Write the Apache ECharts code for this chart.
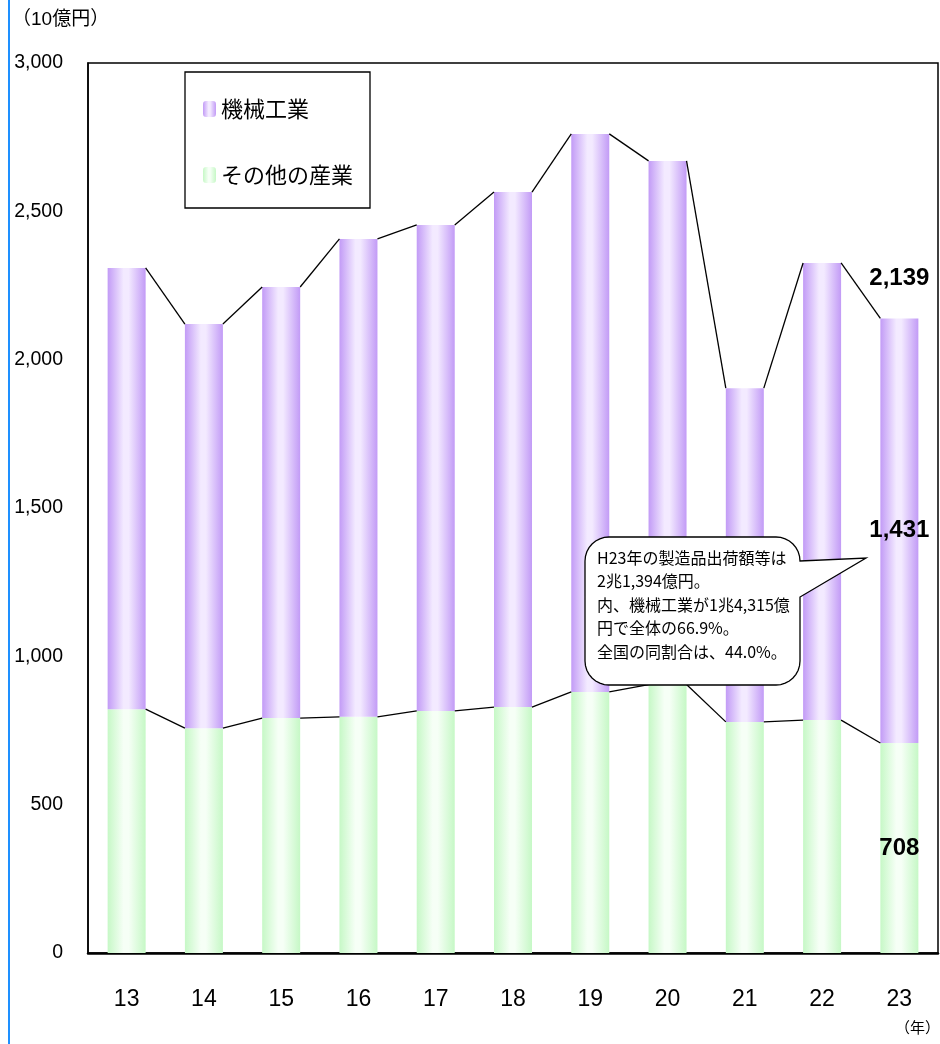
<!DOCTYPE html>
<html><head><meta charset="utf-8">
<script src="https://cdn.jsdelivr.net/npm/echarts@6/dist/echarts.min.js"></script>
<style>html,body{margin:0;padding:0;background:#fff}#c{width:940px;height:1044px}</style>
</head><body><div id="c"></div>
<script>
var years = ['13','14','15','16','17','18','19','20','21','22','23'];
var machinery = [1487, 1362, 1453, 1611, 1638, 1736, 1881, 1765, 1125, 1541, 1431];
var other = [822, 758, 792, 796, 816, 829, 880, 905, 779, 785, 708];
var yTicks = [0, 500, 1000, 1500, 2000, 2500, 3000];
var calloutLines = ['H23年の製造品出荷額等は', '2兆1,394億円。', '内、機械工業が1兆4,315億', '円で全体の66.9%。', '全国の同割合は、44.0%。'];

var LAT = "'Liberation Sans','Noto Sans CJK JP',sans-serif";
var CJK = "'Noto Sans CJK JP',sans-serif";
var BARW = 38;

var totals = machinery.map(function (m, i) { return m + other[i]; });
function segs(arr) {
  var out = [];
  for (var i = 0; i < arr.length - 1; i++) out.push([i, arr[i], arr[i + 1]]);
  return out;
}
function renderSeg(params, api) {
  var i = api.value(0);
  var p1 = api.coord([i, api.value(1)]);
  var p2 = api.coord([i + 1, api.value(2)]);
  return {
    type: 'line',
    shape: { x1: p1[0] + BARW / 2, y1: p1[1], x2: p2[0] - BARW / 2, y2: p2[1] },
    style: { stroke: '#000', lineWidth: 1.3 }
  };
}
function grad(edge, mid) {
  return new echarts.graphic.LinearGradient(0, 0, 1, 0, [
    { offset: 0, color: edge }, { offset: 0.42, color: mid }, { offset: 0.55, color: mid }, { offset: 1, color: edge }
  ]);
}
// speech bubble outline (rounded rect with a tail on the right)
function bubble(x0, y0, x1, y1, r, tail) {
  var pts = [];
  function arc(cx, cy, a0, a1) {
    for (var k = 0; k <= 8; k++) {
      var a = a0 + (a1 - a0) * k / 8;
      pts.push([cx + r * Math.cos(a), cy + r * Math.sin(a)]);
    }
  }
  var P = Math.PI;
  arc(x0 + r, y0 + r, P, 1.5 * P);
  arc(x1 - r, y0 + r, 1.5 * P, 2 * P);
  pts.push([x1, tail[0]], [tail[1], tail[2]], [x1, tail[3]]);
  arc(x1 - r, y1 - r, 0, 0.5 * P);
  arc(x0 + r, y1 - r, 0.5 * P, P);
  return pts;
}
var boldLabel = {
  show: true, position: 'inside',
  formatter: function (p) { return p.value.toLocaleString('en-US'); },
  fontFamily: LAT, fontWeight: 'bold', fontSize: 24, color: '#000'
};
var last = years.length - 1;
var chart = echarts.init(document.getElementById('c'), null, { renderer: 'canvas' });
chart.setOption({
  animation: false,
  grid: { left: 88, right: 2, top: 63, bottom: 91, show: true, borderColor: '#000', borderWidth: 1.5, backgroundColor: 'transparent' },
  legend: {
    data: ['機械工業', 'その他の産業'],
    orient: 'vertical', left: 185, top: 72,
    padding: [26, 17, 22, 18],
    itemWidth: 13, itemHeight: 16, itemGap: 44,
    borderColor: '#000', borderWidth: 1.3,
    textStyle: { fontFamily: CJK, fontSize: 22, color: '#000' },
    selectedMode: false
  },
  xAxis: {
    type: 'category', data: years,
    axisLine: { lineStyle: { color: '#000', width: 2.5 } },
    axisTick: { show: false },
    axisLabel: { fontFamily: LAT, fontSize: 23, color: '#000', margin: 35 }
  },
  yAxis: {
    type: 'value', min: yTicks[0], max: yTicks[yTicks.length - 1], interval: yTicks[1] - yTicks[0],
    axisLine: { show: true, lineStyle: { color: '#000', width: 1.5 } },
    axisTick: { show: false },
    splitLine: { show: false },
    axisLabel: {
      fontFamily: LAT, fontSize: 19.5, color: '#000', margin: 25,
      formatter: function (v) { return v.toLocaleString('en-US'); }
    }
  },
  series: [
    {
      name: 'その他の産業', type: 'bar', stack: 's', barWidth: BARW,
      itemStyle: { color: grad('#c6f8c6', '#f6fff6') },
      data: other.map(function (v, i) { return i === last ? { value: v, label: boldLabel } : v; })
    },
    {
      name: '機械工業', type: 'bar', stack: 's', barWidth: BARW,
      itemStyle: { color: grad('#c29bf6', '#f3eaff') },
      data: machinery.map(function (v, i) { return i === last ? { value: v, label: boldLabel } : v; })
    },
    { type: 'custom', renderItem: renderSeg, data: segs(totals), encode: { x: 0, y: 1 }, z: 3, silent: true },
    { type: 'custom', renderItem: renderSeg, data: segs(other), encode: { x: 0, y: 1 }, z: 3, silent: true },
    {
      type: 'scatter', symbolSize: 0, silent: true, z: 5,
      itemStyle: { opacity: 1 },
      data: [[last, totals[last]]],
      label: {
        show: true, position: 'top', offset: [0, -26], distance: 0,
        formatter: function (p) { return p.value[1].toLocaleString('en-US'); },
        fontFamily: LAT, fontWeight: 'bold', fontSize: 24, color: '#000',
        backgroundColor: '#fff', padding: [2, 5]
      }
    }
  ],
  graphic: [
    { type: 'line', shape: { x1: 9, y1: 0, x2: 9, y2: 1044 }, style: { stroke: '#1e90ff', lineWidth: 2 } },
    { type: 'text', x: 12, y: 10, style: { text: '（10億円）', font: '19px ' + LAT, fill: '#000' } },
    { type: 'text', x: 895, y: 1021, style: { text: '（年）', font: '15px ' + LAT, fill: '#000' } },
    {
      type: 'polygon', z: 10,
      shape: { points: bubble(585, 537, 800, 685, 24, [561, 866, 558, 597]) },
      style: { fill: '#fff', stroke: '#000', lineWidth: 1.3 }
    },
    {
      type: 'text', z: 11, x: 597, y: 546,
      style: { text: calloutLines.join('\n'), font: '16px ' + CJK, lineHeight: 23.5, fill: '#000' }
    }
  ]
});
</script></body></html>
